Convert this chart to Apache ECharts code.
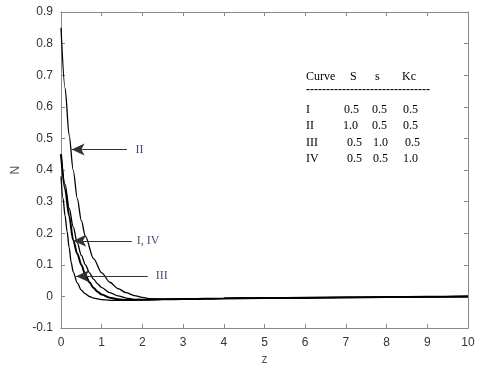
<!DOCTYPE html>
<html>
<head>
<meta charset="utf-8">
<script src="https://cdn.jsdelivr.net/npm/echarts@6/dist/echarts.min.js"></script>
<style>
  html, body { margin: 0; padding: 0; background: #fff; }
  #chart { width: 480px; height: 371px; }
</style>
</head>
<body>
<div id="chart"></div>
<script>
// curve data, [z, N]
var curveII = [[0, 0.85], [0.1, 0.66], [0.2, 0.51], [0.3, 0.40], [0.4, 0.31], [0.5, 0.24], [0.6, 0.19],
  [0.8, 0.12], [1.0, 0.075], [1.2, 0.045], [1.4, 0.025], [1.6, 0.012], [1.8, 0.003], [2.0, -0.003],
  [2.2, -0.007], [2.5, -0.009], [3, -0.008], [4, -0.006], [5, -0.005], [6, -0.004], [7, -0.003],
  [8, -0.002], [9, -0.001], [10, 0]]
var curveI = [[0, 0.45], [0.1, 0.34], [0.2, 0.255], [0.3, 0.178], [0.4, 0.135], [0.5, 0.10], [0.6, 0.068],
  [0.7, 0.045], [0.8, 0.027], [0.9, 0.015], [1.0, 0.006], [1.2, -0.004], [1.4, -0.009], [1.6, -0.011],
  [1.8, -0.011], [2.0, -0.010], [2.5, -0.009], [3, -0.008], [4, -0.006], [5, -0.005], [6, -0.004],
  [7, -0.003], [8, -0.002], [9, -0.001], [10, 0]]
var curveIV = [[0, 0.45], [0.1, 0.355], [0.2, 0.28], [0.3, 0.22], [0.4, 0.17], [0.5, 0.13], [0.6, 0.10],
  [0.7, 0.075], [0.8, 0.055], [0.9, 0.04], [1.0, 0.028], [1.2, 0.012], [1.4, 0.002], [1.6, -0.005],
  [1.8, -0.009], [2.0, -0.010], [2.5, -0.009], [3, -0.008], [4, -0.006], [5, -0.005], [6, -0.004],
  [7, -0.003], [8, -0.002], [9, -0.001], [10, 0]]
var curveIII = [[0, 0.38], [0.05, 0.31], [0.1, 0.255], [0.15, 0.205], [0.2, 0.155], [0.25, 0.108],
  [0.3, 0.078], [0.4, 0.043], [0.5, 0.02], [0.6, 0.008], [0.7, 0.0], [0.8, -0.005], [1.0, -0.010],
  [1.2, -0.012], [1.5, -0.012], [2.0, -0.011], [2.5, -0.009], [3, -0.008], [4, -0.006], [5, -0.005],
  [6, -0.004], [7, -0.003], [8, -0.002], [9, -0.001], [10, 0]]

// annotation arrows: [label, tail z, tip z, N]
var arrows = [['II', 1.62, 0.26, 0.465], ['I, IV', 1.74, 0.30, 0.176], ['III', 2.13, 0.37, 0.064]]
var labelPos = [[1.83, 0.465], [1.86, 0.176], [2.33, 0.064]]

// parameter table
var tableHead = ['Curve', 'S', 's', 'Kc']
var tableRows = [['I', '0.5', '0.5', '0.5'], ['II', '1.0', '0.5', '0.5'],
  ['III', '0.5', '1.0', '0.5'], ['IV', '0.5', '0.5', '1.0']]

var chart = echarts.init(document.getElementById('chart'))

var axisColor = '#888'
var labelFont = { color: '#333', fontSize: 12, fontFamily: 'Liberation Sans, Arial' }
var serif = 'Liberation Serif, Times New Roman'

function curveSeries (data, width) {
  return {
    type: 'line',
    data: data,
    showSymbol: false,
    smooth: 0.3,
    smoothMonotone: 'x',
    lineStyle: { color: '#000', width: width },
    silent: true
  }
}

function frameAxis (pos, min, max, interval) {
  return {
    type: 'value', min: min, max: max, interval: interval, position: pos,
    axisLine: { show: true, onZero: false, lineStyle: { color: axisColor } },
    axisTick: { show: true, inside: true, length: 4, lineStyle: { color: axisColor } },
    axisLabel: { show: false },
    splitLine: { show: false }
  }
}

var graphics = []
var colX = [306, 350, 375, 402]
tableHead.forEach(function (t, i) {
  graphics.push({ type: 'text', left: colX[i], top: 71, style: { text: t, font: '12px ' + serif, fill: '#000' } })
})
graphics.push({ type: 'text', left: 306, top: 84, style: { text: '-------------------------------', font: 'bold 12px ' + serif, fill: '#000' } })
var rowX = [[306, 344, 372, 403], [306, 343, 372, 403], [306, 347, 373, 405], [306, 347, 373, 403]]
tableRows.forEach(function (row, r) {
  row.forEach(function (t, i) {
    graphics.push({ type: 'text', left: rowX[r][i], top: 104 + r * 16.2, style: { text: t, font: '12px ' + serif, fill: '#000' } })
  })
})

chart.setOption({
  animation: false,
  grid: { left: 61, right: 12, top: 12, bottom: 38 },
  xAxis: [{
    type: 'value', min: 0, max: 10, interval: 1,
    name: 'z', nameLocation: 'middle', nameGap: 23,
    nameTextStyle: { color: '#555', fontSize: 12, fontFamily: 'Liberation Sans, Arial' },
    axisLine: { onZero: false, lineStyle: { color: axisColor } },
    axisTick: { inside: true, length: 4, lineStyle: { color: axisColor } },
    axisLabel: Object.assign({ margin: 9 }, labelFont),
    splitLine: { show: false }
  }, frameAxis('top', 0, 10, 1)],
  yAxis: [{
    type: 'value', min: -0.1, max: 0.9, interval: 0.1,
    name: 'N', nameLocation: 'middle', nameGap: 36, nameRotate: 90,
    nameTextStyle: { color: '#555', fontSize: 12, fontFamily: 'Liberation Sans, Arial' },
    axisLine: { show: true, onZero: false, lineStyle: { color: axisColor } },
    axisTick: { show: true, inside: true, length: 4, lineStyle: { color: axisColor } },
    axisLabel: Object.assign({ margin: 8, formatter: function (v) { return String(+v.toFixed(1)) } }, labelFont),
    splitLine: { show: false }
  }, frameAxis('right', -0.1, 0.9, 0.1)],
  series: [
    curveSeries(curveII, 1.3),
    curveSeries(curveIV, 1.3),
    curveSeries(curveI, 2),
    curveSeries(curveIII, 1.3),
    {
      type: 'scatter',
      data: labelPos.map(function (p, i) { return { value: p, name: arrows[i][0] } }),
      symbolSize: 0,
      silent: true,
      label: {
        show: true,
        position: 'right',
        distance: 0,
        formatter: '{b}',
        color: '#1a1a4a',
        fontSize: 12,
        fontFamily: serif
      },
      markLine: {
        silent: true,
        symbol: ['none', 'arrow'],
        symbolSize: [9, 13],
        label: { show: false },
        lineStyle: { color: '#333', width: 1, type: 'solid' },
        data: arrows.map(function (a) {
          return [{ coord: [a[1], a[3]] }, { coord: [a[2], a[3]] }]
        })
      }
    }
  ],
  graphic: graphics
})
</script>
</body>
</html>
